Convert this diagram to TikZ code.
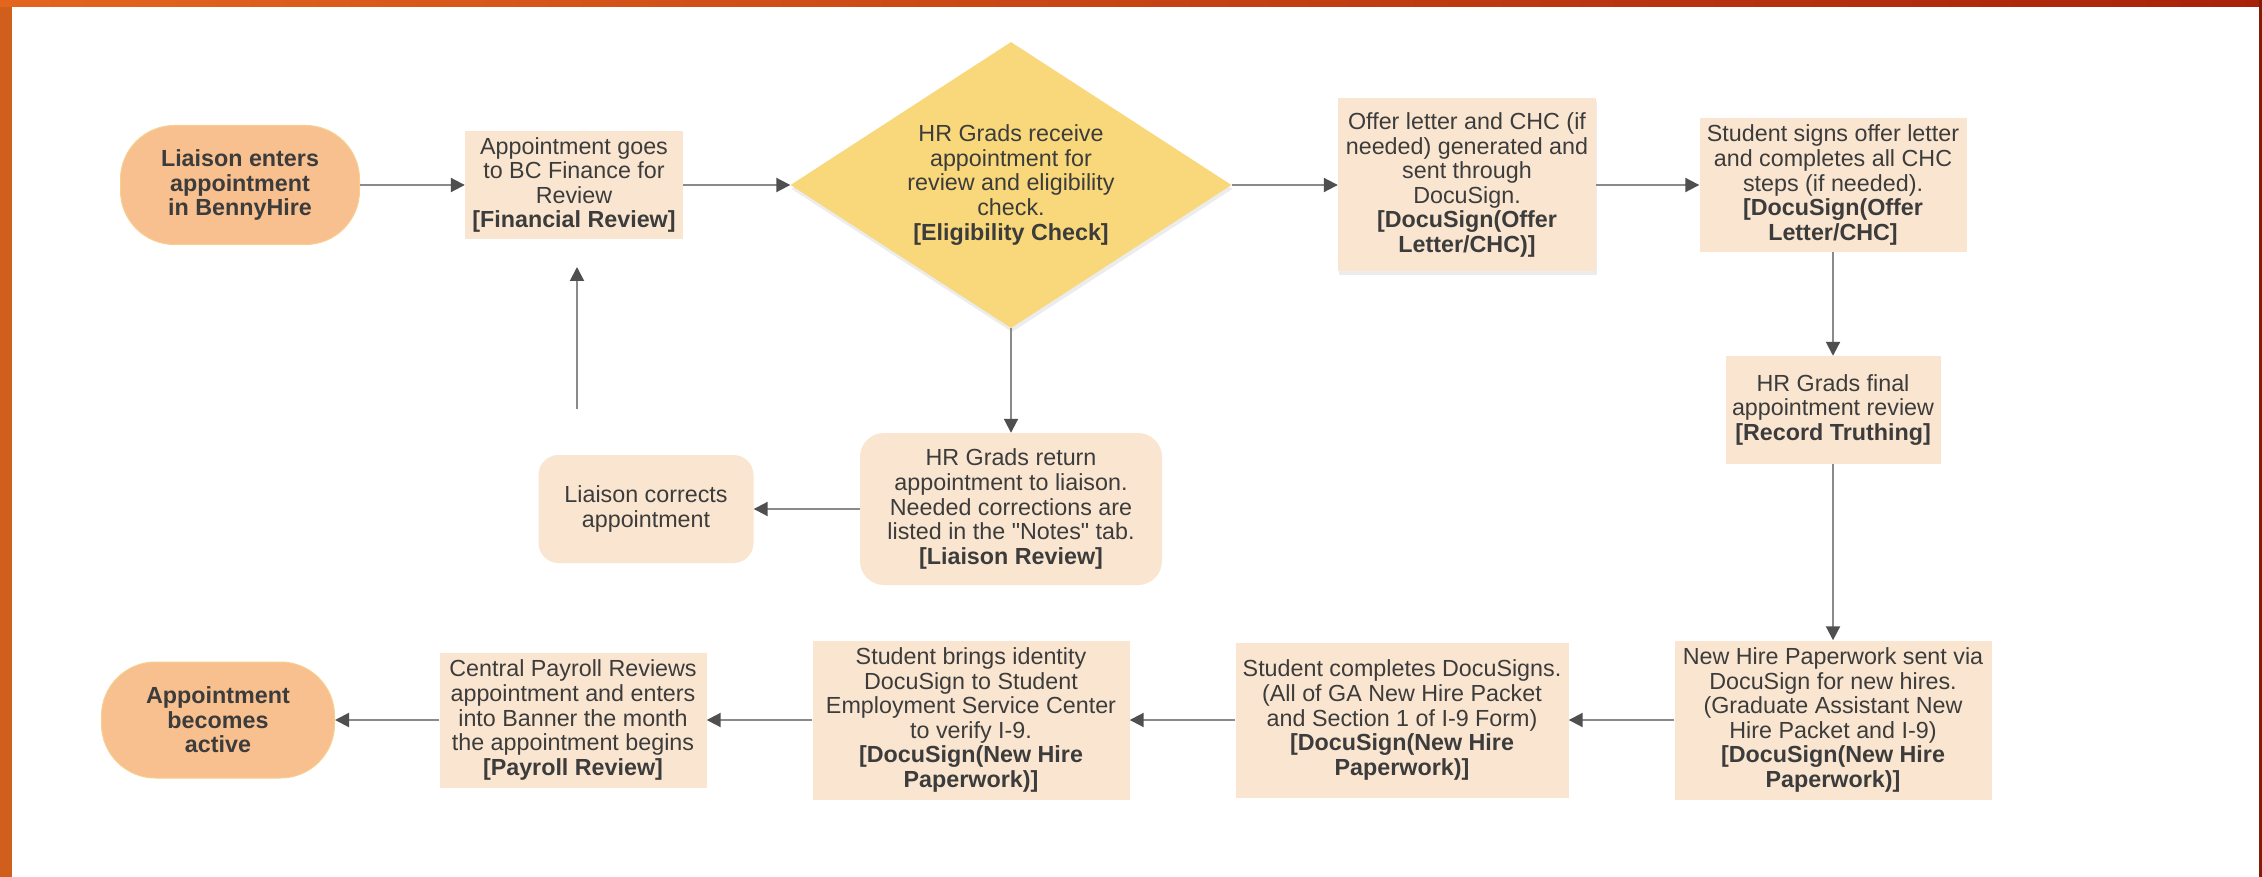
\documentclass[tikz,border=0pt]{standalone}
\usepackage{fontspec}
\setmainfont{Liberation Sans}[Ligatures=TeXOff]
\usetikzlibrary{shapes.geometric,arrows.meta,shadows}

\definecolor{boxfill}{HTML}{FAE6D0}
\definecolor{termfill}{HTML}{F9C08F}
\definecolor{termline}{HTML}{F6CF8E}
\definecolor{decfill}{HTML}{F8D87A}
\definecolor{txt}{HTML}{3C3C3C}
\definecolor{wire}{HTML}{8A8A8A}
\definecolor{tipc}{HTML}{4F4F4F}
\definecolor{frameA}{HTML}{E2661E}
\definecolor{frameB}{HTML}{A8220A}

\begin{document}
\begin{tikzpicture}[x=1pt,y=-1pt,
  every node/.style={font=\fontsize{23.3}{24.6}\selectfont, text=txt, align=center, inner sep=0pt},
  term/.style={rectangle, rounded corners=54pt, fill=termfill, draw=termline, line width=1pt,
               font=\fontsize{23.3}{24.6}\selectfont\bfseries},
  proc/.style={rectangle, fill=boxfill},
  soft/.style={rectangle, rounded corners=24pt, fill=boxfill},
  decide/.style={diamond, aspect=1.54, fill=decfill},
  lifted/.style={drop shadow={shadow xshift=1pt, shadow yshift=-4pt, opacity=0.15}},
  flow/.style={draw=wire, line width=2pt, -{Triangle[length=14pt,width=14pt,color=tipc]}}]

% page and frame
\useasboundingbox (0,0) rectangle (2262,877);
\fill[white] (0,0) rectangle (2262,877);
\fill[frameA!92!black] (0,0) rectangle (12,877);
\shade[left color=frameA, right color=frameB] (0,0) rectangle (2262,7);
\fill[frameB!80!black] (2259,0) rectangle (2262,877);

% top row
\node[term, minimum width=239pt, minimum height=119pt] (enter) at (240,185)
  {Liaison enters\\appointment\\in BennyHire};
\node[proc, minimum width=218pt, minimum height=108pt] (fin) at (574,185)
  {Appointment goes\\to BC Finance for\\Review\\\textbf{[Financial Review]}};
\node[decide, lifted, minimum width=441pt, minimum height=286pt] (elig) at (1011,185)
  {HR Grads receive\\appointment for\\review and eligibility\\check.\\\textbf{[Eligibility Check]}};
\node[proc, lifted, minimum width=258pt, minimum height=173pt] (offer) at (1467,185)
  {Offer letter and CHC (if\\needed) generated and\\sent through\\DocuSign.\\\textbf{[DocuSign(Offer}\\\textbf{Letter/CHC)]}};
\node[proc, minimum width=267pt, minimum height=134pt] (sign) at (1833,185)
  {Student signs offer letter\\and completes all CHC\\steps (if needed).\\\textbf{[DocuSign(Offer}\\\textbf{Letter/CHC]}};

% right column
\node[proc, minimum width=215pt, minimum height=108pt] (truth) at (1833,410)
  {HR Grads final\\appointment review\\\textbf{[Record Truthing]}};

% correction loop
\node[soft, minimum width=302pt, minimum height=152pt] (ret) at (1011,509)
  {HR Grads return\\appointment to liaison.\\Needed corrections are\\listed in the "Notes" tab.\\\textbf{[Liaison Review]}};
\node[soft, rounded corners=20pt, minimum width=215pt, minimum height=108pt] (corr) at (646,509)
  {Liaison corrects\\appointment};
\coordinate (fixfrom) at (577,409);
\coordinate (fixto) at (577,267);

% bottom row
\node[proc, minimum width=317pt, minimum height=159pt] (newhire) at (1833,720)
  {New Hire Paperwork sent via\\DocuSign for new hires.\\(Graduate Assistant New\\Hire Packet and I-9)\\\textbf{[DocuSign(New Hire}\\\textbf{Paperwork)]}};
\node[proc, minimum width=333pt, minimum height=155pt] (complete) at (1402,720)
  {Student completes DocuSigns.\\(All of GA New Hire Packet\\and Section 1 of I-9 Form)\\\textbf{[DocuSign(New Hire}\\\textbf{Paperwork)]}};
\node[proc, minimum width=317pt, minimum height=159pt] (ident) at (971,720)
  {Student brings identity\\DocuSign to Student\\Employment Service Center\\to verify I-9.\\\textbf{[DocuSign(New Hire}\\\textbf{Paperwork)]}};
\node[proc, minimum width=267pt, minimum height=135pt] (payroll) at (573,720)
  {Central Payroll Reviews\\appointment and enters\\into Banner the month\\the appointment begins\\\textbf{[Payroll Review]}};
\node[term, minimum width=233pt, minimum height=116pt] (active) at (218,720)
  {Appointment\\becomes\\active};

% connectors
\draw[flow] (enter) -- (fin);
\draw[flow] (fin) -- (elig);
\draw[flow] (elig) -- (offer);
\draw[flow] (offer) -- (sign);
\draw[flow] (sign) -- (truth);
\draw[flow] (truth) -- (newhire);
\draw[flow] (newhire) -- (complete);
\draw[flow] (complete) -- (ident);
\draw[flow] (ident) -- (payroll);
\draw[flow] (payroll) -- (active);
\draw[flow] (elig) -- (ret);
\draw[flow] (ret) -- (corr);
\draw[flow] (fixfrom) -- (fixto);
\end{tikzpicture}
\end{document}
